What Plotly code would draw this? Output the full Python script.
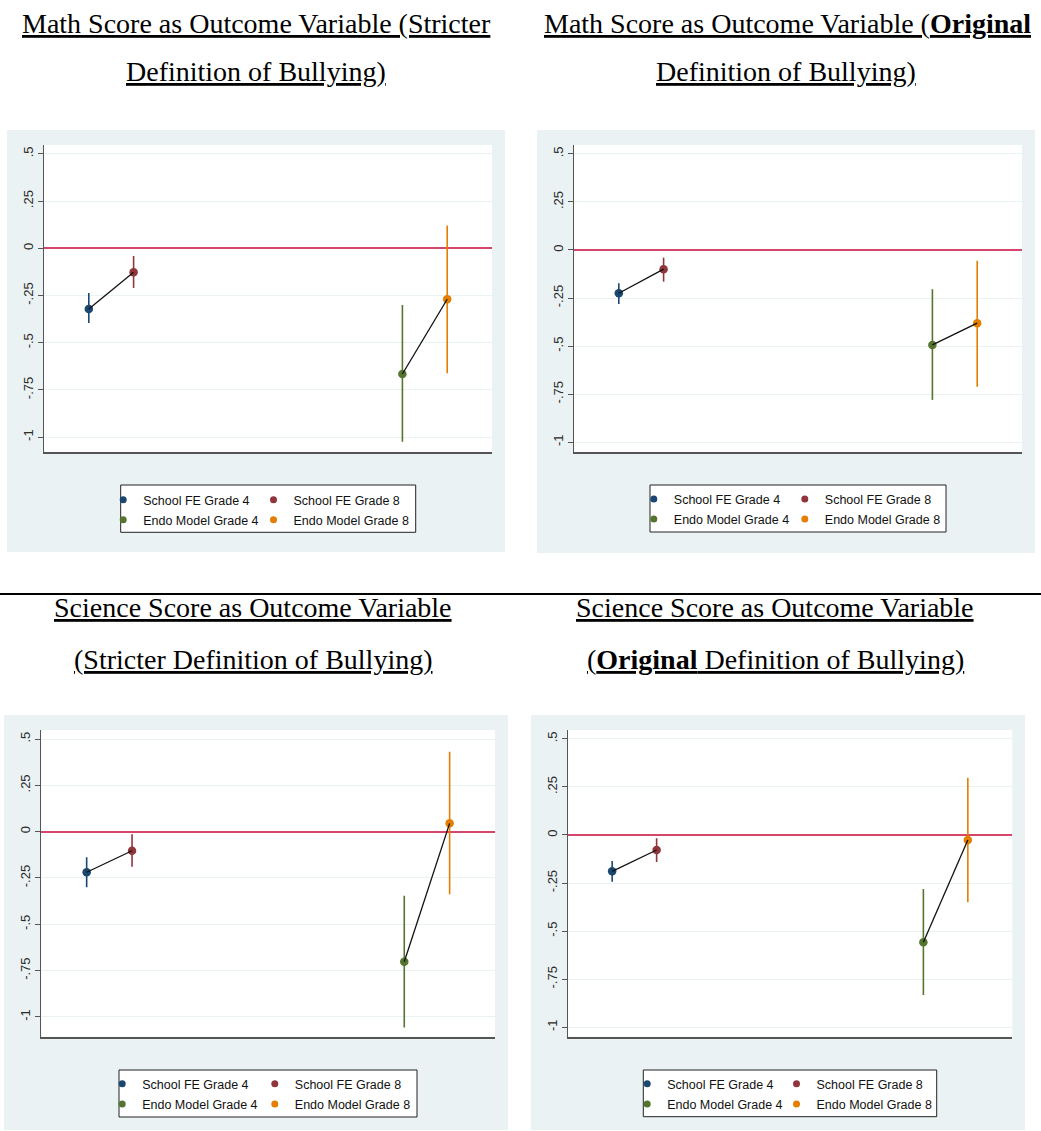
import plotly.graph_objects as go

# ---- data -----------------------------------------------------------------
series_names = ["School FE Grade 4", "School FE Grade 8",
                "Endo Model Grade 4", "Endo Model Grade 8"]
series_colors = ["#1a476f", "#90353b", "#55752f", "#e37e00"]
x_pos = [1, 2, 8, 9]

# point estimates with lower / upper confidence bounds (order = series_names)
math_strict_est = [-0.322, -0.127, -0.666, -0.270]
math_strict_lo = [-0.396, -0.210, -1.025, -0.662]
math_strict_hi = [-0.237, -0.041, -0.300, 0.120]

math_orig_est = [-0.225, -0.100, -0.494, -0.381]
math_orig_lo = [-0.281, -0.165, -0.780, -0.711]
math_orig_hi = [-0.173, -0.040, -0.204, -0.056]

sci_strict_est = [-0.219, -0.103, -0.702, 0.045]
sci_strict_lo = [-0.300, -0.189, -1.057, -0.338]
sci_strict_hi = [-0.138, -0.014, -0.346, 0.432]

sci_orig_est = [-0.189, -0.078, -0.558, -0.026]
sci_orig_lo = [-0.243, -0.140, -0.832, -0.350]
sci_orig_hi = [-0.135, -0.017, -0.281, 0.298]

tick_vals = [-1, -0.75, -0.5, -0.25, 0, 0.25, 0.5]
tick_text = ["-1", "-.75", "-.5", "-.25", "0", ".25", ".5"]

# ---- layout geometry (pixels) -----------------------------------------------
W, H = 1041, 1131
panels = [
    dict(est=math_strict_est, lo=math_strict_lo, hi=math_strict_hi,
         plot=(44, 145, 492, 452), yr=(-1.079, 0.547),
         bg=(7, 130, 505, 552),
         leg_sym=(127.7, 278.0), leg_rows=(500, 520), leg_box=(120.7, 485, 415.7, 532.3)),
    dict(est=math_orig_est, lo=math_orig_lo, hi=math_orig_hi,
         plot=(574, 145, 1022, 452), yr=(-1.051, 0.546),
         bg=(537, 130, 1035, 553),
         leg_sym=(658.3, 809.3), leg_rows=(499.3, 519.3), leg_box=(650, 485, 946, 532)),
    dict(est=sci_strict_est, lo=sci_strict_lo, hi=sci_strict_hi,
         plot=(41.3, 730, 495, 1036.7), yr=(-1.107, 0.549),
         bg=(4, 715, 508, 1130),
         leg_sym=(126.7, 279.3), leg_rows=(1084, 1104.3), leg_box=(119, 1070, 417, 1117)),
    dict(est=sci_orig_est, lo=sci_orig_lo, hi=sci_orig_hi,
         plot=(567.7, 730, 1012.3, 1036.7), yr=(-1.049, 0.546),
         bg=(531, 715, 1025, 1130),
         leg_sym=(651.7, 801.0), leg_rows=(1084, 1104.3), leg_box=(643.3, 1070, 936.7, 1116.7)),
]


def px(x):
    return x / W


def py(y):
    return 1 - y / H


def rect(x0, y0, x1, y1, fill, line=None):
    return dict(type="rect", xref="paper", yref="paper",
                x0=px(x0), x1=px(x1), y0=py(y1), y1=py(y0),
                fillcolor=fill, line=line or dict(width=0), layer="below")


fig = go.Figure()
shapes = []
layout_extra = {}
legend_font = dict(family="Liberation Sans", size=12.5, color="#111111")
axis_grey = "#555555"

for i, p in enumerate(panels):
    k = "" if i == 0 else str(i + 1)
    xa, ya = "x" + k, "y" + k
    x0, y0, x1, y1 = p["plot"]

    # grey graph region, white plot region, legend frame
    shapes.append(rect(*p["bg"], "#eaf2f3"))
    shapes.append(rect(x0, y0, x1, y1, "white"))
    shapes.append(rect(*p["leg_box"], "white", dict(color="#222222", width=1)))

    # estimates with confidence intervals
    for j in range(4):
        est, lo, hi = p["est"][j], p["lo"][j], p["hi"][j]
        fig.add_trace(go.Scatter(
            x=[x_pos[j]], y=[est], mode="markers",
            marker=dict(color=series_colors[j], size=8.5),
            error_y=dict(type="data", symmetric=False,
                         array=[hi - est], arrayminus=[est - lo],
                         width=0, thickness=1.6, color=series_colors[j]),
            xaxis=xa, yaxis=ya, showlegend=False, name=series_names[j]))

    # black connectors between grade 4 and grade 8 estimates
    for a, b in [(0, 1), (2, 3)]:
        fig.add_trace(go.Scatter(
            x=[x_pos[a], x_pos[b]], y=[p["est"][a], p["est"][b]],
            mode="lines", line=dict(color="#111111", width=1.3),
            xaxis=xa, yaxis=ya, showlegend=False, hoverinfo="skip"))

    # legend entries: two rows, two columns
    col_step = p["leg_sym"][1] - p["leg_sym"][0]
    for r in range(2):
        lname = "legend%d" % (2 * i + r + 1) if (2 * i + r) > 0 else "legend"
        for c in range(2):
            j = 2 * r + c
            fig.add_trace(go.Scatter(
                x=[None], y=[None], mode="markers",
                marker=dict(color=series_colors[j], size=7),
                name=series_names[j], legend=lname,
                legendwidth=(col_step - 45) if c == 0 else 135,
                xaxis=xa, yaxis=ya, showlegend=True))
        layout_extra[lname] = dict(
            orientation="h", xref="paper", yref="paper",
            x=px(p["leg_sym"][0] - 24.5), xanchor="left",
            y=py(p["leg_rows"][r]), yanchor="middle",
            bgcolor="rgba(0,0,0,0)", borderwidth=0,
            font=legend_font,
            itemclick=False, itemdoubleclick=False, tracegroupgap=0)

    layout_extra["xaxis" + k] = dict(
        domain=[px(x0), px(x1)], range=[0, 10], anchor=ya,
        showgrid=False, zeroline=False, showticklabels=False, ticks="",
        showline=True, linecolor=axis_grey, linewidth=1.5, fixedrange=True)
    layout_extra["yaxis" + k] = dict(
        domain=[py(y1), py(y0)], range=list(p["yr"]), anchor=xa,
        tickvals=tick_vals, ticktext=tick_text, tickangle=-90,
        tickfont=dict(family="Liberation Sans", size=13, color="#2a2a2a"),
        ticks="outside", ticklen=5, tickwidth=1, tickcolor=axis_grey,
        showline=True, linecolor=axis_grey, linewidth=1,
        showgrid=True, gridcolor="#eaf2f3", gridwidth=1.3,
        zeroline=True, zerolinecolor="#d6466a", zerolinewidth=2,
        fixedrange=True)

# divider between the math and science rows
shapes.append(dict(type="line", xref="paper", yref="paper",
                   x0=0, x1=1, y0=py(594), y1=py(594),
                   line=dict(color="#000000", width=2)))

# panel headings
title_font = dict(family="Liberation Serif", size=28, color="#000000")
headings = [
    (256, 23, "<u>Math Score as Outcome Variable (Stricter</u>"),
    (256, 71, "<u>Definition of Bullying)</u>"),
    (787, 23, "<u>Math Score as Outcome Variable (<b>Original</b></u>"),
    (786, 71, "<u>Definition of Bullying)</u>"),
    (253, 607, "<u>Science Score as Outcome Variable</u>"),
    (253, 659, "<u>(Stricter Definition of Bullying)</u>"),
    (775, 607, "<u>Science Score as Outcome Variable</u>"),
    (775, 659, "<u>(<b>Original</b> Definition of Bullying)</u>"),
]
annotations = [dict(x=px(hx), y=py(hy), xref="paper", yref="paper",
                    text=t, showarrow=False, xanchor="center", yanchor="middle",
                    font=title_font)
               for hx, hy, t in headings]

fig.update_layout(
    width=W, height=H, margin=dict(l=0, r=0, t=0, b=0),
    paper_bgcolor="white", plot_bgcolor="white",
    shapes=shapes, annotations=annotations,
    **layout_extra)

fig.write_html("out.html")
